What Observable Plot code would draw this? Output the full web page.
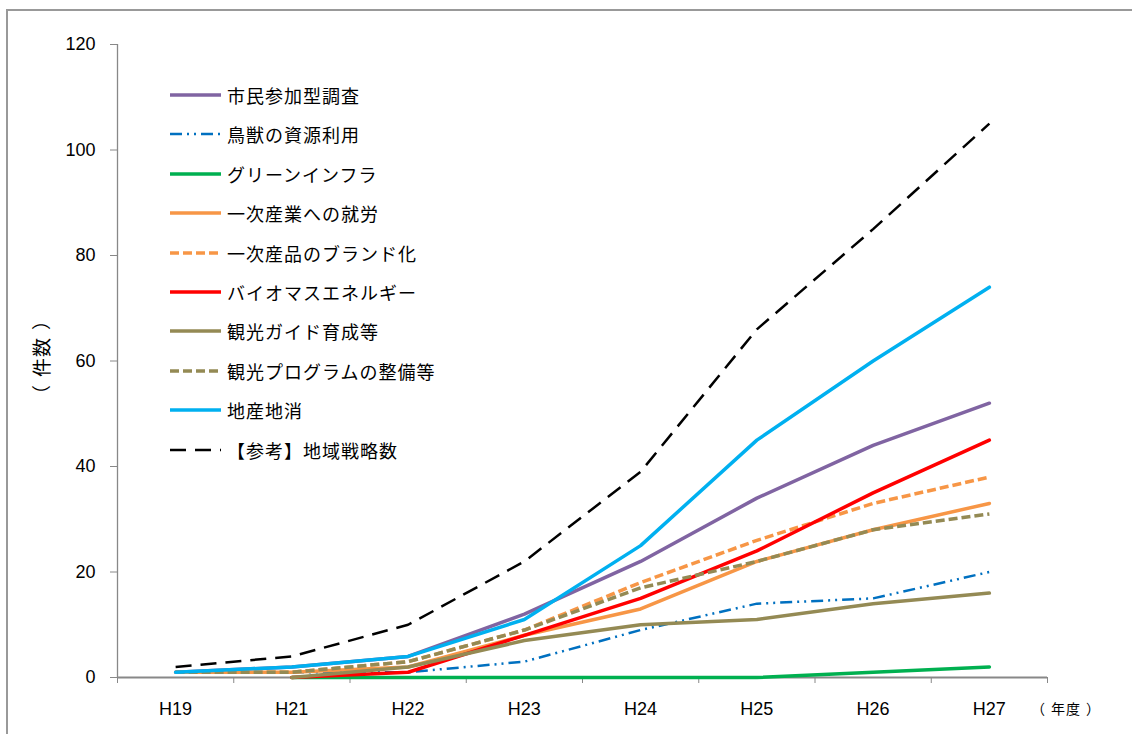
<!DOCTYPE html>
<html><head><meta charset="utf-8">
<script src="https://cdn.jsdelivr.net/npm/d3@7"></script>
<script src="https://cdn.jsdelivr.net/npm/@observablehq/plot@0.6"></script>
<style>
body{margin:0;background:#fff;}
#wrap{position:relative;width:1132px;height:734px;overflow:hidden;font-family:"Liberation Sans","Noto Sans CJK JP",sans-serif;background:#fff;}
#wrap svg.plot{position:absolute;left:0;top:0;}
#frame{position:absolute;left:6px;top:9px;width:1200px;height:800px;border-left:2px solid #999;border-top:2px solid #999;}
.leg{position:absolute;left:170px;height:24px;display:flex;align-items:center;font-size:18px;letter-spacing:1px;color:#000;white-space:nowrap;}
.leg svg{margin-right:5px;}
#ylab{position:absolute;left:40px;top:357px;transform:translate(-50%,-50%) rotate(-90deg);font-family:"Noto Sans CJK JP",sans-serif;font-size:19px;letter-spacing:1px;white-space:nowrap;}
#xlab{position:absolute;left:1031px;top:698px;font-family:"Noto Sans CJK JP",sans-serif;font-size:14px;letter-spacing:1px;white-space:nowrap;}
.pl{margin-right:7px;} .pr{margin-left:7px;}
#xlab .pl{margin-right:5px;} #xlab .pr{margin-left:5px;}
</style></head><body><div id="wrap"><div id="frame"></div></div>
<script>
const years = ["H19","H21","H22","H23","H24","H25","H26","H27"];
const yTicks = [0,20,40,60,80,100,120];
const yTitle = "件数";
const xTitle = "年度";
const names = ["市民参加型調査","鳥獣の資源利用","グリーンインフラ","一次産業への就労","一次産品のブランド化","バイオマスエネルギー","観光ガイド育成等","観光プログラムの整備等","地産地消","【参考】地域戦略数"];
const shimin   = [1,2,4,12,22,34,44,52];
const choju    = [null,1,1,3,9,14,15,20];
const green    = [null,0,0,0,0,0,1,2];
const shuro    = [1,1,2,8,13,22,28,33];
const brand    = [1,1,3,9,18,26,33,38];
const biomass  = [null,0,1,8,15,24,35,45];
const guide    = [null,0,2,7,10,11,14,16];
const program  = [1,1,3,9,17,22,28,31];
const chisan   = [1,2,4,11,25,45,60,74];
const senryaku = [2,4,10,22,39,66,85,105];
const valuesList = [shimin,choju,green,shuro,brand,biomass,guide,program,chisan,senryaku];
const colors = ["#8064A2","#0070C0","#00B050","#F79646","#F79646","#FF0000","#948A54","#948A54","#00B0F0","#000000"];
const dashes = [null,"12,5,2,5,2,5",null,null,"9,4",null,null,"9,4",null,"16,9"];
const widths = [3.5,2.5,3.5,3.5,3.5,3.5,3.5,3.5,3.5,2.5];

const series = names.map((name,si)=>({name, color:colors[si], dash:dashes[si], width:widths[si],
  rows: valuesList[si].map((v,i)=>({xi:i, v, name}))}));

const font = '"Liberation Sans","Noto Sans CJK JP",sans-serif';
const plot = Plot.plot({
  width:1132, height:734,
  marginLeft:117, marginRight:85, marginTop:44, marginBottom:57,
  style:{fontFamily:font, fontSize:"18px", background:"transparent", color:"#000"},
  x:{type:"linear", domain:[-0.5,7.5]},
  y:{domain:[0,120]},
  marks:[
    Plot.ruleX([-0.5],{stroke:"#888",strokeWidth:1.3}),
    Plot.axisY({ticks:yTicks, tickSize:7, tickPadding:15, stroke:"#888", fill:"#000", label:null, fontSize:18, style:{letterSpacing:"1px"}}),
    Plot.axisX({ticks:d3.range(-0.5,8,1), tickSize:6, tickFormat:()=>"", stroke:"#888", label:null}),
    Plot.axisX({ticks:d3.range(0,8), tickSize:0, tickPadding:25, tickFormat:i=>years[i], fill:"#000", label:null, fontSize:18, style:{letterSpacing:"1px"}}),
    Plot.ruleY([0],{stroke:"#888",strokeWidth:2}),
    ...series.map(s=>Plot.line(s.rows,{x:"xi", y:"v", stroke:s.color, strokeWidth:s.width, strokeDasharray:s.dash, strokeLinejoin:"round", strokeLinecap:s.dash?"butt":"round"}))
  ]
});
plot.classList.add("plot");
const wrap = document.getElementById("wrap");
wrap.appendChild(plot);

series.forEach((s,i)=>{
  const row = document.createElement("div");
  row.className="leg";
  row.style.top = (95 + i*39.4 - 12) + "px";
  row.innerHTML = `<svg width="52" height="10"><line x1="0" y1="5" x2="51" y2="5" stroke="${s.color}" stroke-width="${s.width}" ${s.dash?`stroke-dasharray="${s.dash}"`:""}/></svg><span>${s.name}</span>`;
  wrap.appendChild(row);
});
const yl = document.createElement("div"); yl.id="ylab"; yl.innerHTML=`<span class="pl">（</span>${yTitle}<span class="pr">）</span>`; wrap.appendChild(yl);
const xl = document.createElement("div"); xl.id="xlab"; xl.innerHTML=`<span class="pl">（</span>${xTitle}<span class="pr">）</span>`; wrap.appendChild(xl);
</script>
</body></html>
